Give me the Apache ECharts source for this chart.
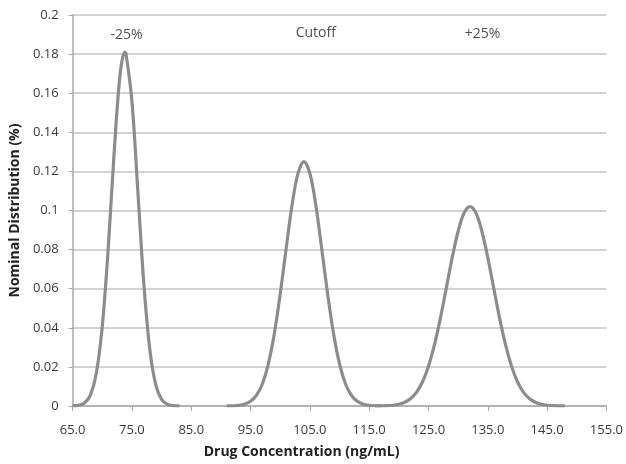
<!DOCTYPE html>
<html>
<head>
<meta charset="utf-8">
<script src="https://cdn.jsdelivr.net/npm/echarts@6/dist/echarts.min.js"></script>
<style>
  html, body { margin: 0; padding: 0; background: #fff; }
  #chart { width: 626px; height: 464px; }
</style>
</head>
<body>
<div id="chart"></div>
<script>
// -25% curve
const lowX = [65, 66, 67, 68, 69, 70, 71, 72, 73, 73.8, 74, 75, 76, 77, 78, 79, 80, 81, 82, 83];
const lowY = [0.00006, 0.00034, 0.0015, 0.0056, 0.0168, 0.0407, 0.0805, 0.1295, 0.1694, 0.181, 0.1803,
  0.156, 0.1098, 0.0628, 0.0293, 0.0111, 0.0034, 0.00085, 0.00017, 0.00003];

// cutoff curve
const cutX = [91, 92, 93, 94, 95, 96, 97, 98, 99, 100, 101, 102, 103, 104,
  105, 106, 107, 108, 109, 110, 111, 112, 113, 114, 115, 116, 117];
const cutY = [0.00003, 0.00011, 0.00034, 0.00095, 0.0024, 0.0055, 0.0114, 0.0216, 0.0369, 0.0572, 0.0805, 0.1028, 0.119, 0.125,
  0.119, 0.1028, 0.0805, 0.0572, 0.0369, 0.0216, 0.0114, 0.0055, 0.0024, 0.00095, 0.00034, 0.00011, 0.00003];

// +25% curve
const highX = [116, 117, 118, 119, 120, 121, 122, 123, 124, 125, 126, 127, 128, 129, 130, 131, 132,
  133, 134, 135, 136, 137, 138, 139, 140, 141, 142, 143, 144, 145, 146, 147, 148];
const highY = [0.00002, 0.00006, 0.00016, 0.00039, 0.0009, 0.0019, 0.0038, 0.0071, 0.0124, 0.0204, 0.0312, 0.0448, 0.0603, 0.0759, 0.0894, 0.0987, 0.102,
  0.0987, 0.0894, 0.0759, 0.0603, 0.0448, 0.0312, 0.0204, 0.0124, 0.0071, 0.0038, 0.0019, 0.0009, 0.00039, 0.00016, 0.00006, 0.00002];

// labels above the curves
const noteNames = ['-25%', 'Cutoff', '+25%'];
const noteX = [74.1, 106, 134.1];
const noteY = [0.19, 0.191, 0.1905];

const zip = (xs, ys) => xs.map((x, i) => [x, ys[i]]);

const font = '"Open Sans", "Liberation Sans", sans-serif';
const lineColor = '#8c8c8c';

const curve = (name, xs, ys) => ({
  name: name,
  type: 'line',
  data: zip(xs, ys),
  smooth: 0.35,
  symbol: 'none',
  lineStyle: { color: lineColor, width: 3.2 },
  z: 3
});

const chart = echarts.init(document.getElementById('chart'));
chart.setOption({
  animation: false,
  textStyle: { fontFamily: font },
  grid: { left: 69, right: 15, top: 15, bottom: 56, containLabel: false },
  xAxis: {
    type: 'value',
    min: 65,
    max: 155,
    interval: 10,
    name: 'Drug Concentration (ng/mL)',
    nameLocation: 'middle',
    nameGap: 39,
    nameTextStyle: { fontSize: 14, fontWeight: 'bold', color: '#222', padding: [0, 76, 0, 0] },
    axisLine: { lineStyle: { color: '#a8a8a8', width: 1.5 } },
    axisTick: { show: true, length: 5, inside: false, lineStyle: { color: '#a8a8a8' } },
    axisLabel: { color: '#3a3a3a', fontSize: 13, margin: 18, formatter: v => v.toFixed(1) },
    splitLine: { show: false }
  },
  yAxis: {
    type: 'value',
    min: 0,
    max: 0.2,
    interval: 0.02,
    name: 'Nominal Distribution (%)',
    nameLocation: 'middle',
    nameGap: 49,
    nameTextStyle: { fontSize: 14, fontWeight: 'bold', color: '#222' },
    axisLine: { show: true, lineStyle: { color: '#a8a8a8', width: 1.5 } },
    axisTick: { show: true, length: 4, lineStyle: { color: '#a8a8a8' } },
    axisLabel: { color: '#3a3a3a', fontSize: 13, margin: 14, formatter: v => String(+v.toFixed(2)) },
    splitLine: { show: true, lineStyle: { color: '#c4c4c4', width: 1.5 } }
  },
  series: [
    curve('-25%', lowX, lowY),
    curve('Cutoff', cutX, cutY),
    curve('+25%', highX, highY),
    {
      type: 'scatter',
      symbolSize: 0,
      data: noteNames.map((n, i) => ({ name: n, value: [noteX[i], noteY[i]] })),
      label: {
        show: true,
        position: 'inside',
        formatter: p => p.name,
        color: '#222',
        fontSize: 14,
        fontFamily: font
      },
      silent: true
    }
  ]
});
</script>
</body>
</html>
